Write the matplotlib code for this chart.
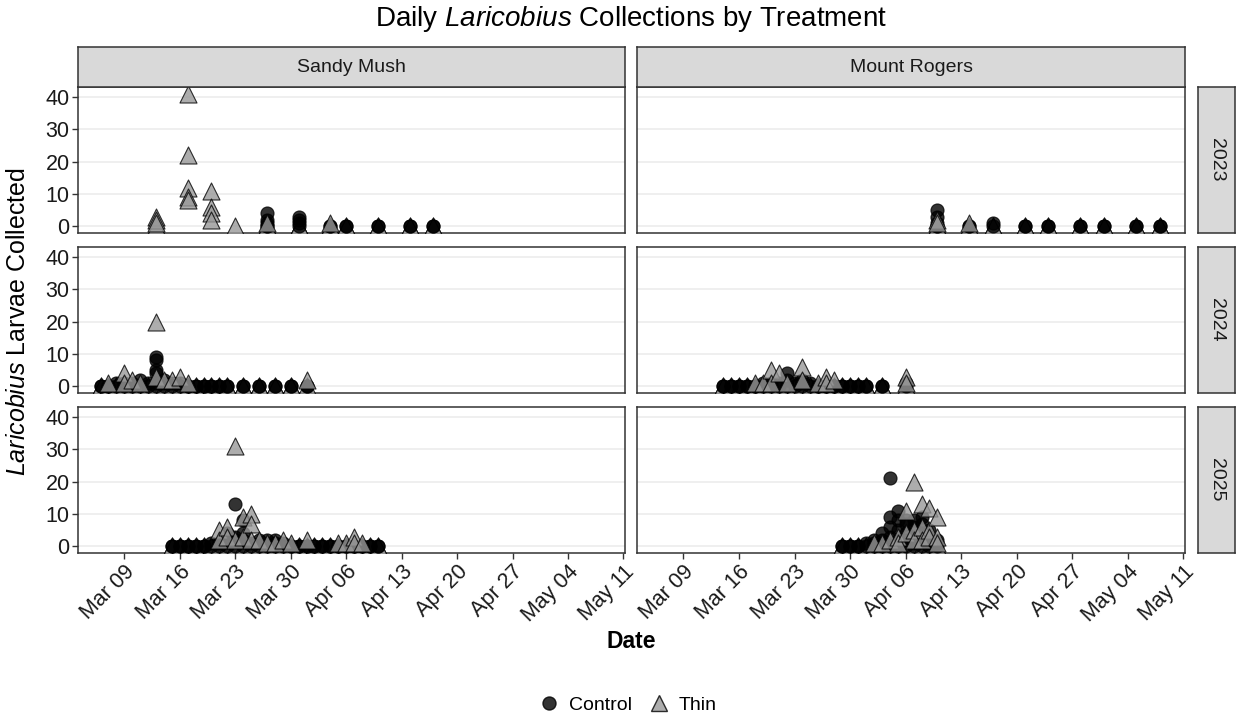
import matplotlib
matplotlib.use('Agg')
import matplotlib.pyplot as plt
import matplotlib.dates as mdates
import pandas as pd
from matplotlib.lines import Line2D

plt.rcParams['font.family'] = ['Liberation Sans', 'DejaVu Sans']
plt.rcParams['mathtext.fontset'] = 'custom'
plt.rcParams['mathtext.it'] = 'Liberation Sans:italic'
plt.rcParams['mathtext.rm'] = 'Liberation Sans'

# Comptages par date (plusieurs pièges par date et par traitement)
sites = ['Sandy Mush', 'Mount Rogers']
years = [2023, 2024, 2025]

sm_2023_dates = ['03-13', '03-17', '03-20', '03-23', '03-27', '03-31', '04-04', '04-06', '04-10', '04-14', '04-17']
sm_2023_control = [[], [], [], [], [4, 2, 1, 0, 0], [3, 2, 1, 0], [0, 0], [0, 0], [0, 0], [0, 0], [0, 0]]
sm_2023_thin = [[3, 2, 1, 0], [41, 22, 12, 9, 8], [11, 6, 4, 2], [0], [1, 0, 0], [0, 0, 0], [1, 0, 0], [0, 0], [0, 0], [0, 0], [0, 0]]

mr_2023_dates = ['04-10', '04-14', '04-17', '04-21', '04-24', '04-28', '05-01', '05-05', '05-08']
mr_2023_control = [[5, 3, 1, 0, 0], [0, 0], [1, 0], [0, 0], [0, 0], [0, 0], [0, 0], [0, 0], [0, 0]]
mr_2023_thin = [[2, 1, 0, 0], [1, 0], [0, 0], [0, 0], [0, 0], [0, 0], [0, 0], [0, 0], [0, 0]]

sm_2024_dates = ['03-06', '03-07', '03-08', '03-09', '03-10', '03-11', '03-12', '03-13', '03-14', '03-15', '03-16',
                 '03-17', '03-18', '03-19', '03-20', '03-21', '03-22', '03-24', '03-26', '03-28', '03-30', '04-01']
sm_2024_control = [[0, 0], [0, 0], [1, 0], [1, 0], [1, 0], [2, 0], [1, 0], [9, 8, 5, 4, 1, 0], [2, 1, 0], [1, 0], [1, 0],
                   [0, 0], [0, 0], [0, 0], [0, 0], [0, 0], [0, 0], [0, 0], [0, 0], [0, 0], [0, 0], [0, 0]]
sm_2024_thin = [[0, 0], [1, 0], [0, 0], [4, 1, 0], [2, 0], [1, 0], [0, 0], [20, 3, 0], [2, 0], [2, 0], [3, 0],
                [1, 0], [0, 0], [0, 0], [0, 0], [0, 0], [0, 0], [0, 0], [0, 0], [0, 0], [0, 0], [2, 0]]

mr_2024_dates = ['03-14', '03-15', '03-16', '03-17', '03-18', '03-19', '03-20', '03-21', '03-22', '03-23', '03-24',
                 '03-25', '03-26', '03-27', '03-28', '03-29', '03-30', '03-31', '04-01', '04-03', '04-06']
mr_2024_control = [[0, 0], [0, 0], [0, 0], [0, 0], [0, 0], [1, 0], [1, 0], [1, 0], [4, 2, 0], [1, 0], [2, 1, 0],
                   [1, 0], [0, 0], [0, 0], [0, 0], [0, 0], [0, 0], [0, 0], [0, 0], [0, 0], [1, 0]]
mr_2024_thin = [[0, 0], [0, 0], [0, 0], [0, 0], [1, 0], [1, 0], [5, 1, 0], [4, 0], [1, 0], [0, 0], [6, 2, 0],
                [0, 0], [1, 0], [3, 1, 0], [2, 0], [0, 0], [0, 0], [0, 0], [0, 0], [0, 0], [3, 1, 0]]

sm_2025_dates = ['03-15', '03-16', '03-17', '03-18', '03-19', '03-20', '03-21', '03-22', '03-23', '03-24', '03-25',
                 '03-26', '03-27', '03-28', '03-29', '03-30', '03-31', '04-01', '04-02', '04-03', '04-04', '04-05',
                 '04-06', '04-07', '04-08', '04-09', '04-10']
sm_2025_control = [[0, 0], [0, 0], [0, 0], [0, 0], [0, 0], [1, 0], [1, 0], [4, 3, 0], [13, 3, 2, 0], [8, 4, 2, 0], [1, 0],
                   [2, 0], [2, 0], [2, 1, 0], [1, 0], [0, 0], [0, 0], [0, 0], [0, 0], [0, 0], [0, 0], [0, 0],
                   [0, 0], [0, 0], [0, 0], [0, 0], [0, 0]]
sm_2025_thin = [[0, 0], [0, 0], [0, 0], [0, 0], [0, 0], [0, 0], [5, 2, 0], [6, 3, 0], [31, 2, 0], [9, 3, 0], [10, 7, 2, 0],
                [2, 0], [1, 0], [1, 0], [2, 0], [1, 0], [0, 0], [2, 0], [0, 0], [0, 0], [0, 0], [1, 0],
                [1, 0], [3, 1, 0], [1, 0], [0, 0], [0, 0]]

mr_2025_dates = ['03-29', '03-30', '03-31', '04-01', '04-02', '04-03', '04-04', '04-05', '04-06', '04-07', '04-08',
                 '04-09', '04-10']
mr_2025_control = [[0, 0], [0, 0], [0, 0], [1, 0], [2, 1, 0], [4, 2, 0], [21, 9, 6, 3, 0], [11, 8, 5, 2, 0],
                   [8, 7, 4, 2, 0], [8, 6, 3, 1, 0], [9, 7, 4, 0], [5, 3, 1, 0], [2, 1, 0]]
mr_2025_thin = [[0, 0], [0, 0], [0, 0], [0, 0], [1, 0], [1, 0], [2, 0], [3, 1, 0], [11, 4, 0], [20, 5, 2, 0],
                [13, 6, 2, 0], [12, 5, 3, 0], [9, 3, 1, 0]]

tick_dates = ['03-09', '03-16', '03-23', '03-30', '04-06', '04-13', '04-20', '04-27', '05-04', '05-11']

donnees = {
    ('Sandy Mush', 2023): (sm_2023_dates, sm_2023_control, sm_2023_thin),
    ('Mount Rogers', 2023): (mr_2023_dates, mr_2023_control, mr_2023_thin),
    ('Sandy Mush', 2024): (sm_2024_dates, sm_2024_control, sm_2024_thin),
    ('Mount Rogers', 2024): (mr_2024_dates, mr_2024_control, mr_2024_thin),
    ('Sandy Mush', 2025): (sm_2025_dates, sm_2025_control, sm_2025_thin),
    ('Mount Rogers', 2025): (mr_2025_dates, mr_2025_control, mr_2025_thin),
}


def jour(mmdd):
    # toutes les années sur un même calendrier pour comparer les saisons
    return pd.Timestamp('2025-' + mmdd)


def points(dates, valeurs):
    xs, ys = [], []
    for d, vals in zip(dates, valeurs):
        for v in vals:
            xs.append(jour(d))
            ys.append(v)
    return xs, ys


W, H = 1238, 721
fig = plt.figure(figsize=(W / 100, H / 100), dpi=100)


def rect(x0, y0, x1, y1):
    return [x0 / W, 1 - y1 / H, (x1 - x0) / W, (y1 - y0) / H]


cols = [(78, 625), (637, 1185)]
rows = [(87, 233), (247, 393), (407, 553)]
gris = '#333333'
x_min = mdates.date2num(jour('03-09')) - 5.85
x_max = mdates.date2num(jour('05-11')) + 0.2

style_ctrl = dict(marker='o', s=88, c='black', alpha=0.8, edgecolors='black', linewidths=0.8)
style_thin = dict(marker='^', s=150, c='#999999', alpha=0.8, edgecolors='black', linewidths=0.8)

for i, an in enumerate(years):
    for j, site in enumerate(sites):
        ax = fig.add_axes(rect(cols[j][0], rows[i][0], cols[j][1], rows[i][1]))
        dates, ctrl, thin = donnees[(site, an)]
        xc, yc = points(dates, ctrl)
        xt, yt = points(dates, thin)
        # zéros Thin dessous, puis Control, puis les Thin non nuls
        x0 = [x for x, y in zip(xt, yt) if y == 0]
        x1 = [x for x, y in zip(xt, yt) if y > 0]
        y1 = [y for y in yt if y > 0]
        ax.scatter(x0, [0] * len(x0), zorder=3, **style_thin)
        ax.scatter(xc, yc, zorder=4, **style_ctrl)
        ax.scatter(x1, y1, zorder=5, **style_thin)

        ax.set_xlim(x_min, x_max)
        ax.set_ylim(-2.05, 43.05)
        ax.set_yticks([0, 10, 20, 30, 40])
        ax.set_xticks([jour(d) for d in tick_dates])
        ax.grid(axis='y', color='#ebebeb', lw=1.1, zorder=0)
        ax.grid(axis='x', visible=False)
        ax.set_axisbelow(True)
        for sp in ax.spines.values():
            sp.set_color(gris)
            sp.set_linewidth(1.1)
        ax.tick_params(axis='both', length=4, width=1, color=gris, labelsize=15.5, labelcolor='#1a1a1a', pad=2)
        if j == 0:
            ax.set_yticklabels(['0', '10', '20', '30', '40'])
        else:
            ax.tick_params(axis='y', left=False, labelleft=False)
        if i == 2:
            ax.set_xticklabels([jour(d).strftime('%b %d') for d in tick_dates], rotation=45, ha='right',
                               rotation_mode='anchor')
        else:
            ax.tick_params(axis='x', bottom=False, labelbottom=False)

# bandeaux des facettes
for j, site in enumerate(sites):
    st = fig.add_axes(rect(cols[j][0], 47, cols[j][1], 87))
    st.set_facecolor('#d9d9d9')
    st.set_xticks([])
    st.set_yticks([])
    for sp in st.spines.values():
        sp.set_color(gris)
        sp.set_linewidth(1.1)
    st.text(0.5, 0.5, site, ha='center', va='center', fontsize=14, color='#1a1a1a', transform=st.transAxes)

for i, an in enumerate(years):
    st = fig.add_axes(rect(1198, rows[i][0], 1235, rows[i][1]))
    st.set_facecolor('#d9d9d9')
    st.set_xticks([])
    st.set_yticks([])
    for sp in st.spines.values():
        sp.set_color(gris)
        sp.set_linewidth(1.1)
    st.text(0.5, 0.5, str(an), ha='center', va='center', fontsize=14, rotation=-90, color='#1a1a1a',
            transform=st.transAxes)

fig.text(631 / W, 1 - 19 / H, 'Daily $\\it{Laricobius}$ Collections by Treatment', ha='center', va='center',
         fontsize=20)
fig.text(631 / W, 1 - 641 / H, 'Date', ha='center', va='center', fontsize=16.5, fontweight='bold')
fig.text(18 / W, 1 - 322 / H, '$\\it{Laricobius}$ Larvae Collected', ha='center', va='center', rotation=90,
         fontsize=18)

handles = [
    Line2D([], [], ls='none', marker='o', ms=9.4, mfc='black', mec='black', alpha=0.8, label='Control'),
    Line2D([], [], ls='none', marker='^', ms=12, mfc='#999999', mec='black', alpha=0.8, label='Thin'),
]
fig.legend(handles=handles, loc='center', bbox_to_anchor=(627 / W, 1 - 705 / H), ncol=2, frameon=False,
           fontsize=14, handletextpad=0.4, columnspacing=0.8, handlelength=1.2)

fig.savefig('out.png', dpi=100)
